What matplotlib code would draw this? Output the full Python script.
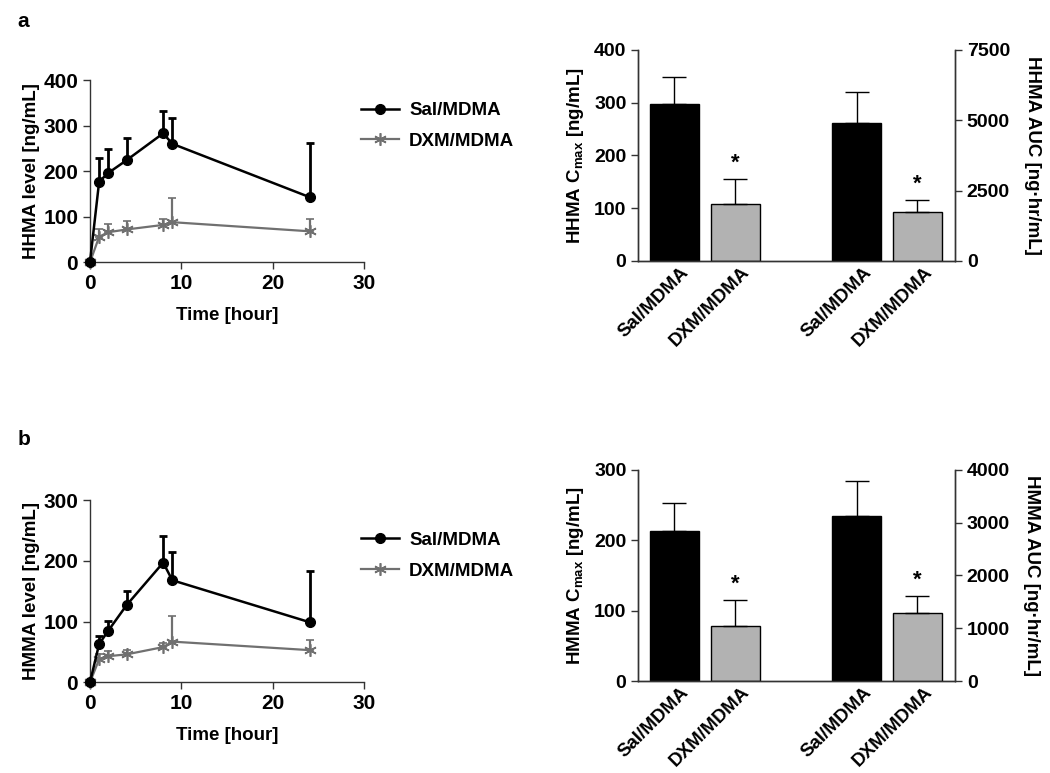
import numpy as np
import matplotlib
matplotlib.use("Agg")
from matplotlib import pyplot as plt
from matplotlib.lines import Line2D

plt.rcParams["font.family"] = ["Liberation Sans", "DejaVu Sans"]
plt.rcParams["font.weight"] = "bold"
plt.rcParams["mathtext.fontset"] = "custom"
plt.rcParams["mathtext.rm"] = "Liberation Sans"
plt.rcParams["mathtext.bf"] = "Liberation Sans:bold"

# time course data
hours = [0, 1, 2, 4, 8, 9, 24]
hhma_sal = [0, 177, 196, 224, 283, 260, 143]
hhma_sal_err = [0, 52, 52, 48, 49, 56, 119]
hhma_dxm = [0, 56, 66, 72, 82, 88, 68]
hhma_dxm_err = [0, 17, 19, 18, 12, 54, 27]
hmma_sal = [0, 63, 85, 127, 197, 168, 99]
hmma_sal_err = [0, 14, 16, 24, 44, 47, 85]
hmma_dxm = [0, 38, 43, 46, 58, 67, 53]
hmma_dxm_err = [0, 8, 8, 8, 6, 42, 17]

# bar data: Cmax (left axis) and AUC (right axis)
groups = ["Sal/MDMA", "DXM/MDMA", "Sal/MDMA", "DXM/MDMA"]
hhma_cmax = [297, 108]
hhma_cmax_err = [51, 47]
hhma_auc = [4900, 1755]
hhma_auc_err = [1120, 410]
hmma_cmax = [213, 78]
hmma_cmax_err = [40, 37]
hmma_auc = [3125, 1285]
hmma_auc_err = [675, 330]

BLACK = "#000000"
GREY_LINE = "#707070"
GREY_BAR = "#b2b2b2"
AX_COL = "#333333"

fig = plt.figure(figsize=(10.5, 7.73), dpi=100)


def style_axis(ax, size):
    for s in ["left", "bottom", "right"]:
        ax.spines[s].set_color(AX_COL)
        ax.spines[s].set_linewidth(1.0)
    ax.tick_params(colors=AX_COL, labelcolor="black", labelsize=size, width=1.0, length=5)


def time_plot(rect, sal, sal_err, dxm, dxm_err, ymax, yticks, ylabel, leg_y):
    ax = fig.add_axes(rect)
    z = np.zeros(len(hours))
    ax.errorbar(hours, dxm, yerr=[z, dxm_err], color=GREY_LINE, lw=1.6,
                marker=(6, 2, 0), ms=9, mew=1.2, capsize=3, elinewidth=1.6,
                capthick=1.6, clip_on=False, zorder=3)
    ax.errorbar(hours, sal, yerr=[z, sal_err], color=BLACK, lw=1.8,
                marker="o", ms=7, capsize=3, elinewidth=2, capthick=2,
                clip_on=False, zorder=4)
    ax.set_xlim(0, 30)
    ax.set_ylim(0, ymax)
    ax.set_xticks([0, 10, 20, 30])
    ax.set_yticks(yticks)
    ax.spines["top"].set_visible(False)
    ax.spines["right"].set_visible(False)
    style_axis(ax, 15)
    ax.set_xlabel("Time [hour]", fontsize=13.5, fontweight="bold", labelpad=10)
    ax.set_ylabel(ylabel, fontsize=13.5, fontweight="bold", labelpad=2)
    handles = [
        Line2D([], [], color=BLACK, lw=1.8, marker="o", ms=7),
        Line2D([], [], color=GREY_LINE, lw=1.6, marker=(6, 2, 0), ms=9, mew=1.2),
    ]
    fig.legend(handles, ["Sal/MDMA", "DXM/MDMA"], loc="center left",
               bbox_to_anchor=(0.328, leg_y), frameon=False, handlelength=2.0,
               handletextpad=0.55, labelspacing=0.72,
               prop={"weight": "bold", "size": 13.5})
    return ax


def bar_plot(rect, cmax, cmax_err, auc, auc_err, ymax1, yt1, ymax2, yt2, lab1, lab2):
    ax = fig.add_axes(rect)
    ax2 = ax.twinx()
    pos = np.array([0, 1, 3, 4])
    w = 0.8
    cols = [BLACK, GREY_BAR]
    ax.bar(pos[:2], cmax, width=w, color=cols, edgecolor="black", linewidth=1,
           yerr=[[0, 0], cmax_err], capsize=8.5,
           error_kw=dict(elinewidth=1, capthick=1, ecolor="black"))
    ax2.bar(pos[2:], auc, width=w, color=cols, edgecolor="black", linewidth=1,
            yerr=[[0, 0], auc_err], capsize=8.5,
            error_kw=dict(elinewidth=1, capthick=1, ecolor="black"))
    ax.text(pos[1], cmax[1] + cmax_err[1] + ymax1 * 0.025, "*", ha="center",
            va="bottom", fontsize=16, fontweight="bold")
    ax2.text(pos[3], auc[1] + auc_err[1] + ymax2 * 0.025, "*", ha="center",
             va="bottom", fontsize=16, fontweight="bold")
    ax.set_xlim(-0.595, 4.617)
    ax.set_ylim(0, ymax1)
    ax2.set_ylim(0, ymax2)
    ax.set_yticks(yt1)
    ax2.set_yticks(yt2)
    ax.set_xticks(pos + 0.1)
    ax.set_xticklabels(groups, rotation=45, ha="right", rotation_mode="anchor",
                       fontsize=13.5, fontweight="bold")
    for a in (ax, ax2):
        a.spines["top"].set_visible(False)
        style_axis(a, 14)
    ax.tick_params(axis="x", length=0, pad=2, labelsize=13.5)
    ax.set_ylabel(lab1, fontsize=13.5, fontweight="bold", labelpad=6)
    ax2.set_ylabel(lab2, fontsize=13.5, fontweight="bold", rotation=-90, labelpad=22)
    return ax


time_plot([0.0857, 0.6607, 0.2614, 0.2358], hhma_sal, hhma_sal_err, hhma_dxm,
          hhma_dxm_err, 400, [0, 100, 200, 300, 400], "HHMA level [ng/mL]", 0.837)
time_plot([0.0857, 0.1173, 0.2614, 0.2358], hmma_sal, hmma_sal_err, hmma_dxm,
          hmma_dxm_err, 300, [0, 100, 200, 300], "HMMA level [ng/mL]", 0.281)

bar_plot([0.6079, 0.6624, 0.3016, 0.2730], hhma_cmax, hhma_cmax_err, hhma_auc,
         hhma_auc_err, 400, [0, 100, 200, 300, 400], 7500, [0, 2500, 5000, 7500],
         r"HHMA C$_{\mathrm{max}}$ [ng/mL]", "HHMA AUC [ng·hr/mL]")
bar_plot([0.6079, 0.1190, 0.3016, 0.2730], hmma_cmax, hmma_cmax_err, hmma_auc,
         hmma_auc_err, 300, [0, 100, 200, 300], 4000, [0, 1000, 2000, 3000, 4000],
         r"HMMA C$_{\mathrm{max}}$ [ng/mL]", "HMMA AUC [ng·hr/mL]")

fig.text(0.017, 0.972, "a", fontsize=15, fontweight="bold", va="center")
fig.text(0.017, 0.432, "b", fontsize=15, fontweight="bold", va="center")

fig.savefig("out.png", dpi=100)
